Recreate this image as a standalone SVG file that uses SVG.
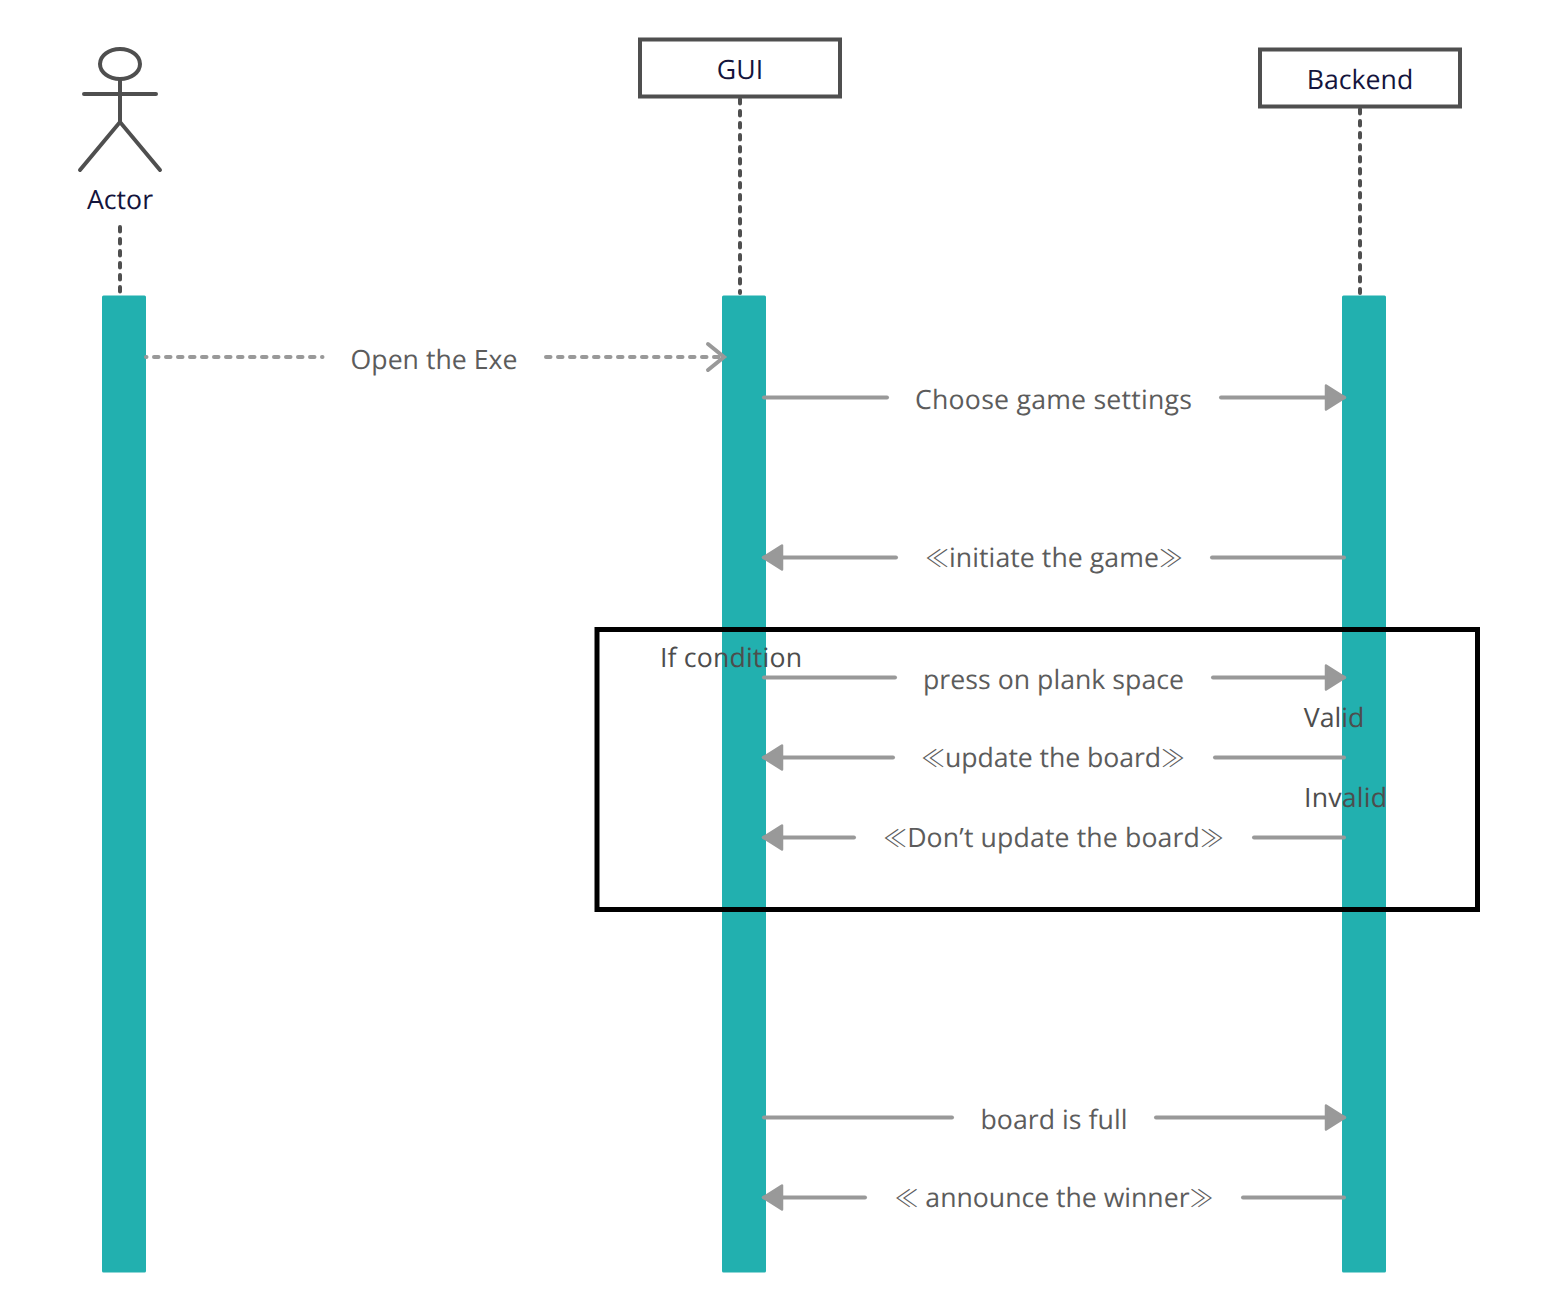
<svg xmlns="http://www.w3.org/2000/svg" width="1564" height="1312" viewBox="0 0 1564 1312">
<style>
text{font-family:"Open Sans","Noto Sans",sans-serif;font-size:26.67px;text-anchor:middle;text-rendering:geometricPrecision}
.g{font-family:"Noto Sans CJK SC","Noto Sans",sans-serif;font-weight:300;font-size:24px}
.n{fill:#14143c}.l{fill:#5c5c5c}.c{fill:#4d4d4d}
.bar{fill:#22b0af}
.box{fill:#fff;stroke:#4f4f4f;stroke-width:4}
.life{stroke:#4f4f4f;stroke-width:4;stroke-dasharray:4.500 7.500;stroke-linecap:round;fill:none}
.m{stroke:#999;stroke-width:4;fill:none;stroke-linecap:round}
.d{stroke-dasharray:4.500 7.500}
</style>
<defs>
<marker id="tri" markerUnits="userSpaceOnUse" markerWidth="26" markerHeight="32" refX="21" refY="15" orient="auto"><path d="M3 3L22 15L3 27Z" fill="#999" stroke="#999" stroke-width="2.500" stroke-linejoin="round"/></marker>
<marker id="open" markerUnits="userSpaceOnUse" markerWidth="26" markerHeight="36" refX="21" refY="16" orient="auto"><path d="M5 3L21 16L5 29" fill="none" stroke="#999" stroke-width="4" stroke-linecap="round"/></marker>
</defs>
<g id="bars">
<rect class="bar" x="102" y="295.500" width="44" height="977" rx="1.500"/>
<rect class="bar" x="722" y="295.500" width="44" height="977" rx="1.500"/>
<rect class="bar" x="1342" y="295.500" width="44" height="977" rx="1.500"/>
</g>
<g id="lifelines">
<path class="life" d="M120 227V292"/>
<path class="life" d="M740 99V293"/>
<path class="life" d="M1360 109V293"/>
</g>
<g id="actor">
<ellipse cx="120" cy="64" rx="20" ry="15" fill="none" stroke="#4f4f4f" stroke-width="4"/>
<path d="M120 80V122M84 94H156M80 170L120 122L160 170" fill="none" stroke="#4f4f4f" stroke-width="4" stroke-linecap="round"/>
<text class="n" x="120" y="208.500">Actor</text>
</g>
<g id="gui">
<rect class="box" x="640" y="39.500" width="200" height="57"/>
<text class="n" x="740" y="78.500">GUI</text>
</g>
<g id="backend">
<rect class="box" x="1260" y="49.500" width="200" height="57"/>
<text class="n" x="1360" y="88.500">Backend</text>
</g>
<g id="connectors">
<path class="m d" d="M146 357H322.500" stroke-dashoffset="4"/>
<path class="m d" d="M546 357H724" marker-end="url(#open)"/>
<path class="m" d="M764 397.500H887"/>
<path class="m" d="M1221 397.500H1344" marker-end="url(#tri)"/>
<path class="m" d="M896 557.500H764" marker-end="url(#tri)"/>
<path class="m" d="M1344 557.500H1212"/>
<path class="m" d="M764 677.500H895"/>
<path class="m" d="M1213 677.500H1344" marker-end="url(#tri)"/>
<path class="m" d="M893 757.500H764" marker-end="url(#tri)"/>
<path class="m" d="M1344 757.500H1215"/>
<path class="m" d="M854 837.500H764" marker-end="url(#tri)"/>
<path class="m" d="M1344 837.500H1254"/>
<path class="m" d="M764 1117.500H952"/>
<path class="m" d="M1156 1117.500H1344" marker-end="url(#tri)"/>
<path class="m" d="M865 1197.500H764" marker-end="url(#tri)"/>
<path class="m" d="M1344 1197.500H1243"/>
</g>
<g id="labels">
<text class="l" x="434" y="368.500">Open the Exe</text>
<text class="l" x="1053.500" y="408.500" textLength="277">Choose game settings</text>
<text class="l" x="1054" y="566.500" textLength="258"><tspan class="g">≪</tspan>initiate the game<tspan class="g">≫</tspan></text>
<text class="l" x="1053.500" y="688.500" textLength="261">press on plank space</text>
<text class="l" x="1053" y="766.500" textLength="264"><tspan class="g">≪</tspan>update the board<tspan class="g">≫</tspan></text>
<text class="l" x="1053.500" y="846.500" textLength="341"><tspan class="g">≪</tspan>Don’t update the board<tspan class="g">≫</tspan></text>
<text class="l" x="1054" y="1128.500" textLength="147">board is full</text>
<text class="l" x="1054" y="1206.500" textLength="319"><tspan class="g">≪</tspan> announce the winner<tspan class="g">≫</tspan></text>
</g>
<g id="condition">
<rect x="597" y="629.500" width="880.500" height="280" fill="none" stroke="#000" stroke-width="5"/>
<text class="c" x="731" y="666.500" textLength="142">If condition</text>
<text class="c" x="1334" y="726.500">Valid</text>
<text class="c" x="1345.500" y="806.500" textLength="83">Invalid</text>
</g>
</svg>
